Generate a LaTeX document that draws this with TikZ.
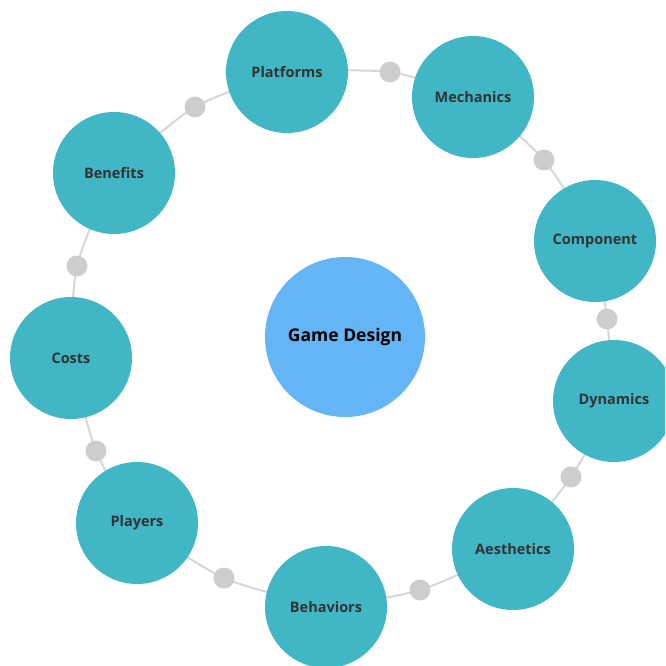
\documentclass[tikz,border=0pt]{standalone}
\usepackage{fontspec}
\setmainfont{Open Sans}
\usetikzlibrary{backgrounds}
\definecolor{teal}{HTML}{41B7C6}
\definecolor{core}{HTML}{64B5F6}
\definecolor{dotgray}{HTML}{CDCDCD}
\definecolor{linegray}{HTML}{D6D6D6}
\definecolor{txt}{HTML}{333333}
\tikzset{
  topic/.style={circle, fill=teal, minimum size=122pt, inner sep=0pt,
    text=txt, font=\bfseries\fontsize{14.5}{16}\selectfont},
  hub/.style={circle, fill=core, minimum size=160pt, inner sep=0pt,
    text=black, font=\bfseries\fontsize{17.5}{20}\selectfont},
  joint/.style={circle, fill=dotgray, minimum size=21pt, inner sep=0pt},
  ring/.style={draw=linegray, line width=2pt}
}
\begin{document}
\begin{tikzpicture}[x=1pt,y=-1pt]
\useasboundingbox (0,0) rectangle (665,666);
\clip (0,0) rectangle (665,666);
% hub
\node[hub] (gd) at (345,337) {Game Design};
% topics
\node[topic] (pf) at (287,72) {Platforms};
\node[topic] (me) at (473,97) {Mechanics};
\node[topic] (co) at (595,241) {Component};
\node[topic] (dy) at (614,401) {Dynamics};
\node[topic] (ae) at (513,549) {Aesthetics};
\node[topic] (be) at (326,607) {Behaviors};
\node[topic] (pl) at (137,523) {Players};
\node[topic] (cs) at (71,358) {Costs};
\node[topic] (bn) at (114,173) {Benefits};
% joints
\node[joint] (j1) at (390,72) {};
\node[joint] (j2) at (544,160) {};
\node[joint] (j3) at (607,319) {};
\node[joint] (j4) at (571,477) {};
\node[joint] (j5) at (420,590) {};
\node[joint] (j6) at (224,578) {};
\node[joint] (j7) at (96,451) {};
\node[joint] (j8) at (77,266) {};
\node[joint] (j9) at (195,107) {};
\begin{scope}[on background layer]
\draw[ring] plot[smooth] coordinates {(pf.center) (j1.center) (me.center)};
\draw[ring] plot[smooth] coordinates {(me.center) (j2.center) (co.center)};
\draw[ring] plot[smooth] coordinates {(co.center) (j3.center) (dy.center)};
\draw[ring] plot[smooth] coordinates {(dy.center) (j4.center) (ae.center)};
\draw[ring] plot[smooth] coordinates {(ae.center) (j5.center) (be.center)};
\draw[ring] plot[smooth] coordinates {(be.center) (j6.center) (pl.center)};
\draw[ring] plot[smooth] coordinates {(pl.center) (j7.center) (cs.center)};
\draw[ring] plot[smooth] coordinates {(cs.center) (j8.center) (bn.center)};
\draw[ring] plot[smooth] coordinates {(bn.center) (j9.center) (pf.center)};
\end{scope}
\end{tikzpicture}
\end{document}
